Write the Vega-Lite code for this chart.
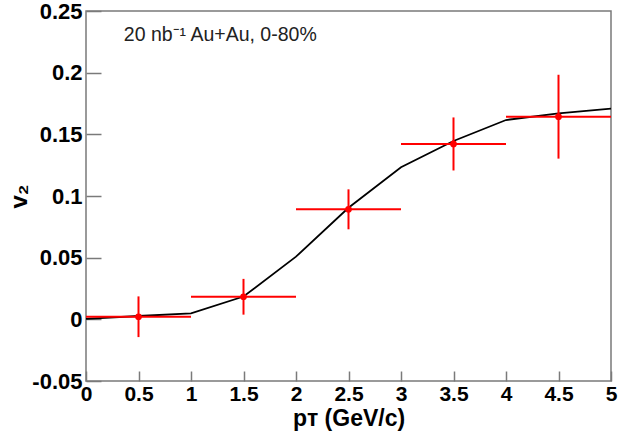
{
  "$schema": "https://vega.github.io/schema/vega-lite/v6.json",
  "autosize": "none",
  "width": 525,
  "height": 370,
  "padding": {"left": 86, "top": 11, "right": 9, "bottom": 55},
  "background": "white",
  "config": {
    "font": "Liberation Sans",
    "view": {"stroke": "#7a7a7a", "strokeWidth": 1.5},
    "axis": {
      "grid": false,
      "domain": false,
      "tickColor": "#7a7a7a",
      "tickWidth": 1.5,
      "labelFont": "Liberation Sans",
      "labelFontWeight": "bold",
      "labelFontSize": 22,
      "labelColor": "black",
      "titleFont": "Liberation Sans",
      "titleFontWeight": "bold",
      "titleFontSize": 24,
      "titleColor": "black"
    }
  },
  "datasets": {
    "pts": [
      {"pt": 0.5, "v2": 0.0021, "lo": 0.0, "hi": 1.0, "elo": -0.0144, "ehi": 0.0186},
      {"pt": 1.5, "v2": 0.0183, "lo": 1.0, "hi": 2.0, "elo": 0.0038, "ehi": 0.0328},
      {"pt": 2.5, "v2": 0.0892, "lo": 2.0, "hi": 3.0, "elo": 0.073, "ehi": 0.1054},
      {"pt": 3.5, "v2": 0.1422, "lo": 3.0, "hi": 4.0, "elo": 0.1207, "ehi": 0.1637},
      {"pt": 4.5, "v2": 0.1643, "lo": 4.0, "hi": 5.0, "elo": 0.1303, "ehi": 0.1983}
    ],
    "curve": [
      {"pt": 0.0, "v2": 0.0003},
      {"pt": 0.5, "v2": 0.0027},
      {"pt": 1.0, "v2": 0.0049},
      {"pt": 1.5, "v2": 0.0185},
      {"pt": 2.0, "v2": 0.0508},
      {"pt": 2.5, "v2": 0.0905},
      {"pt": 3.0, "v2": 0.1233},
      {"pt": 3.5, "v2": 0.1446},
      {"pt": 4.0, "v2": 0.1616},
      {"pt": 4.5, "v2": 0.167},
      {"pt": 5.0, "v2": 0.1708}
    ],
    "note": [
      {"x": 0.36, "y": 0.2306, "label": "20 nb⁻¹ Au+Au, 0-80%"}
    ]
  },
  "layer": [
    {
      "mark": {"type": "rule", "color": "#6e6e6e", "strokeWidth": 1.2, "strokeDash": [6, 4]},
      "encoding": {
        "y": {"datum": 0, "type": "quantitative", "scale": {"domain": [-0.05, 0.25]}}
      }
    },
    {
      "data": {"name": "curve"},
      "mark": {"type": "line", "color": "black", "strokeWidth": 1.8},
      "encoding": {
        "x": {
          "field": "pt", "type": "quantitative",
          "scale": {"domain": [0, 5], "nice": false, "zero": false},
          "axis": {
            "values": [0, 0.5, 1, 1.5, 2, 2.5, 3, 3.5, 4, 4.5, 5],
            "format": "~g",
            "offset": -10,
            "tickSize": 10,
            "labelPadding": 2,
            "labelFontSize": 21,
            "labelFlush": false,
            "labelOverlap": false,
            "title": "pᴛ (GeV/c)",
            "titleFontSize": 23,
            "titlePadding": 3
          }
        },
        "y": {
          "field": "v2", "type": "quantitative",
          "scale": {"domain": [-0.05, 0.25], "nice": false, "zero": false},
          "axis": {
            "values": [-0.05, 0, 0.05, 0.1, 0.15, 0.2, 0.25],
            "format": "~g",
            "labelExpr": "datum.value < 0 ? '-0.05' : datum.label",
            "offset": -15,
            "tickSize": 15,
            "labelPadding": 4,
            "labelFlush": false,
            "labelOverlap": false,
            "title": "v₂",
            "titlePadding": 0
          }
        }
      }
    },
    {
      "data": {"name": "pts"},
      "mark": {"type": "rule", "color": "#ff0000", "strokeWidth": 2},
      "encoding": {
        "x": {"field": "lo", "type": "quantitative"},
        "x2": {"field": "hi"},
        "y": {"field": "v2", "type": "quantitative"}
      }
    },
    {
      "data": {"name": "pts"},
      "mark": {"type": "rule", "color": "#ff0000", "strokeWidth": 2},
      "encoding": {
        "x": {"field": "pt", "type": "quantitative"},
        "y": {"field": "elo", "type": "quantitative"},
        "y2": {"field": "ehi"}
      }
    },
    {
      "data": {"name": "pts"},
      "mark": {"type": "point", "filled": true, "shape": "circle", "color": "#ff0000", "size": 45, "opacity": 1},
      "encoding": {
        "x": {"field": "pt", "type": "quantitative"},
        "y": {"field": "v2", "type": "quantitative"}
      }
    },
    {
      "data": {"name": "note"},
      "mark": {"type": "text", "align": "left", "baseline": "middle", "fontSize": 19.5, "font": "Liberation Sans", "color": "#222222"},
      "encoding": {
        "x": {"field": "x", "type": "quantitative"},
        "y": {"field": "y", "type": "quantitative"},
        "text": {"field": "label"}
      }
    }
  ]
}
